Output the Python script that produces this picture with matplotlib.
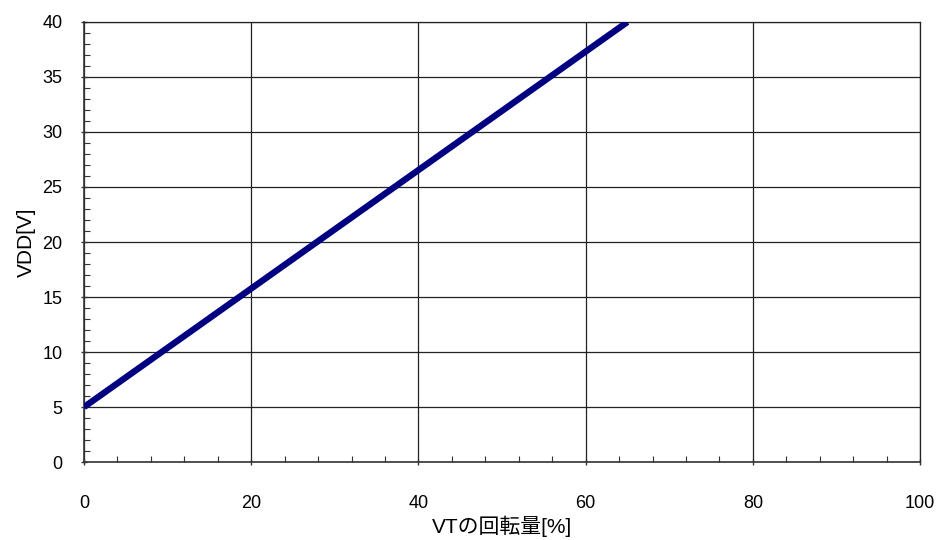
import matplotlib
matplotlib.use("Agg")
import matplotlib.pyplot as plt
from matplotlib.ticker import MultipleLocator

plt.rcParams['font.family'] = ['Liberation Sans', 'Noto Sans CJK JP', 'DejaVu Sans']

vt_rotation = [0, 65]
vdd = [5, 40]
x_ticks = [0, 20, 40, 60, 80, 100]
y_ticks = [0, 5, 10, 15, 20, 25, 30, 35, 40]

fig = plt.figure(figsize=(9.39, 5.40), dpi=100)
ax = fig.add_axes([0.0895, 0.1444, 0.8903, 0.8149])

ax.plot(vt_rotation, vdd, color='#000080', linewidth=4.6, solid_capstyle='butt', zorder=3, clip_on=True)

ax.set_xlim(0, 100)
ax.set_ylim(0, 40)
ax.set_xticks(x_ticks)
ax.set_yticks(y_ticks)
ax.xaxis.set_minor_locator(MultipleLocator(4))
ax.yaxis.set_minor_locator(MultipleLocator(1))

ax.grid(True, which='major', color='#222222', linewidth=0.9)
ax.tick_params(which='major', direction='inout', length=5, width=1, color='#333333', labelsize=13)
ax.tick_params(which='minor', direction='in', length=4, width=0.8, color='#333333')
ax.tick_params(axis='x', which='major', pad=21)
ax.tick_params(axis='y', which='major', pad=13)

for s in ['left', 'bottom']:
    ax.spines[s].set_color('#333333')
    ax.spines[s].set_linewidth(1.2)
for s in ['top', 'right']:
    ax.spines[s].set_color('#222222')
    ax.spines[s].set_linewidth(0.9)

ax.set_xlabel('VTの回転量[%]', fontsize=15, labelpad=3)
ax.set_ylabel('VDD[V]', fontsize=15, labelpad=5)

fig.savefig('out.png', dpi=100)
